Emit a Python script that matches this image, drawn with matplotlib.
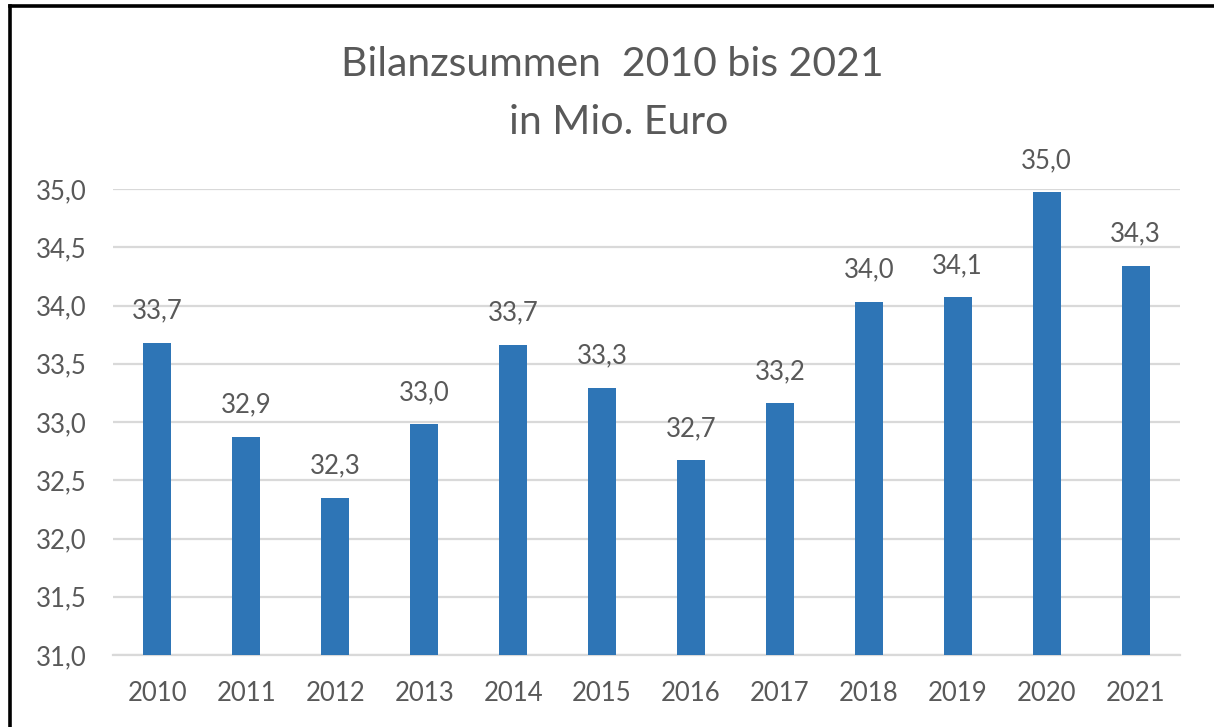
import matplotlib
matplotlib.use("Agg")
import matplotlib.pyplot as plt
from matplotlib.lines import Line2D

years = ["2010", "2011", "2012", "2013", "2014", "2015", "2016", "2017", "2018", "2019", "2020", "2021"]
values = [33.68, 32.87, 32.35, 32.98, 33.66, 33.29, 32.67, 33.16, 34.03, 34.07, 34.97, 34.34]
labels = ["33,7", "32,9", "32,3", "33,0", "33,7", "33,3", "32,7", "33,2", "34,0", "34,1", "35,0", "34,3"]
yticks = [31.0, 31.5, 32.0, 32.5, 33.0, 33.5, 34.0, 34.5, 35.0]
ytick_labels = ["31,0", "31,5", "32,0", "32,5", "33,0", "33,5", "34,0", "34,5", "35,0"]

plt.rcParams['font.family'] = ['Lato', 'DejaVu Sans']
txt = "#595959"

fig = plt.figure(figsize=(12.14, 7.27), dpi=100)
ax = fig.add_axes([113/1214, 1-655/727, (1180-113)/1214, (655-189)/727])

x = list(range(len(years)))
ax.bar(x, values, width=0.315, color="#2E75B6", zorder=3, bottom=0)
ax.set_xlim(-0.5, len(years)-0.5)
ax.set_ylim(31.0, 35.0)
ax.set_yticks(yticks)
ax.set_yticklabels(ytick_labels)
ax.set_xticks(x)
ax.set_xticklabels(years)
ax.tick_params(axis='both', length=0, labelsize=18.5, labelcolor=txt)
ax.tick_params(axis='y', pad=19)
ax.tick_params(axis='x', pad=19)
ax.yaxis.grid(True, color="#D9D9D9", linewidth=1.6, zorder=0)
ax.set_axisbelow(True)
for s in ["top", "right", "left"]:
    ax.spines[s].set_visible(False)
ax.spines["bottom"].set_color("#D9D9D9")
ax.spines["bottom"].set_linewidth(1.6)

for xi, v, lab in zip(x, values, labels):
    ax.annotate(lab, (xi, v), xytext=(0, 14), textcoords="offset points",
                ha="center", va="bottom", fontsize=18.5, color=txt, annotation_clip=False)

fig.text(612/1214, 1-65/727, "Bilanzsummen  2010 bis 2021", ha="center", va="center",
         fontsize=29.5, color=txt)
fig.text(619/1214, 1-122/727, "in Mio. Euro", ha="center", va="center",
         fontsize=29.5, color=txt)

# outer frame (top and left)
fig.add_artist(Line2D([10/1214, 1], [1-6/727, 1-6/727], transform=fig.transFigure, color="black", linewidth=2.6))
fig.add_artist(Line2D([10/1214, 10/1214], [0, 1-6/727], transform=fig.transFigure, color="black", linewidth=2.6))

fig.savefig("out.png", dpi=100)
